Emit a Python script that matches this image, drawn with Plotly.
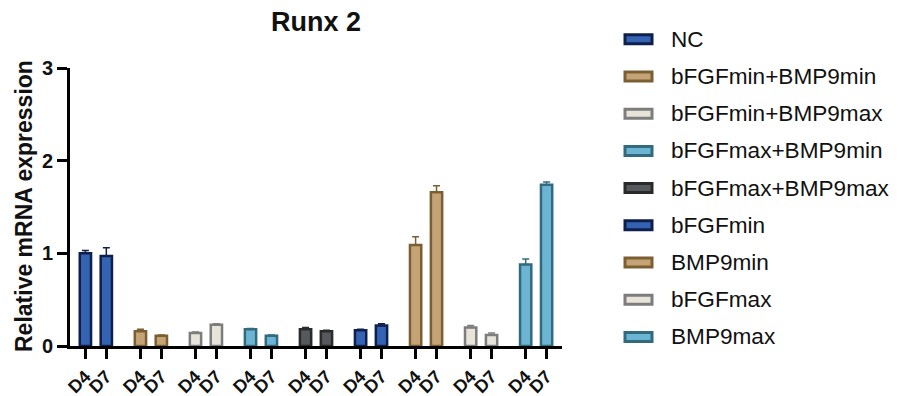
import plotly.graph_objects as go

# ---- data ----
groups = ["NC", "bFGFmin+BMP9min", "bFGFmin+BMP9max", "bFGFmax+BMP9min",
          "bFGFmax+BMP9max", "bFGFmin", "BMP9min", "bFGFmax", "BMP9max"]
days = ["D4", "D7"]
d4_mean = [1.00, 0.16, 0.14, 0.18, 0.18, 0.17, 1.09, 0.20, 0.88]
d7_mean = [0.97, 0.11, 0.23, 0.11, 0.16, 0.22, 1.66, 0.12, 1.74]
d4_err = [0.03, 0.02, 0.01, 0.01, 0.02, 0.01, 0.09, 0.02, 0.06]
d7_err = [0.09, 0.01, 0.01, 0.01, 0.01, 0.02, 0.07, 0.02, 0.03]
y_ticks = [0, 1, 2, 3]

# ---- styles ----
fills = ["#3563b3", "#c4a475", "#e8e4da", "#6bb5d3", "#55585c",
         "#3563b3", "#c4a475", "#e8e4da", "#6bb5d3"]
borders = ["#0e1f4c", "#7b5e34", "#7d7d7d", "#336b7e", "#2a2a2a",
           "#0e1f4c", "#7b5e34", "#7d7d7d", "#336b7e"]

FONT = "Arial, Liberation Sans, sans-serif"
PAGE_OFF = 8  # default body margin of the page
W, H = 899 - PAGE_OFF, 396 - PAGE_OFF
L, R, T, B = 70 - PAGE_OFF, 562 - PAGE_OFF, 68 - PAGE_OFF, 346 - PAGE_OFF
OFF = 0.19

def px2x(px):
    return (px - PAGE_OFF - L) / (R - L)

def py2y(py):
    return (B - (py - PAGE_OFF)) / (B - T)

fig = go.Figure()
tickvals, ticktext = [], []
for g, name in enumerate(groups):
    xs = [g - OFF, g + OFF]
    tickvals += xs
    ticktext += days
    fig.add_trace(go.Bar(
        x=xs, y=[d4_mean[g], d7_mean[g]], name=name, width=0.205,
        marker=dict(color=fills[g], line=dict(color=borders[g], width=2.5)),
        error_y=dict(type="data", symmetric=False,
                     array=[d4_err[g], d7_err[g]], arrayminus=[0, 0],
                     color=borders[g], thickness=1.5, width=3.5),
        showlegend=False,
    ))

shapes, annotations = [], []
for i, name in enumerate(groups):
    yc = 39.3 + i * 37.2
    shapes.append(dict(type="rect", xref="paper", yref="paper",
                       x0=px2x(625), x1=px2x(652), y0=py2y(yc + 4.5), y1=py2y(yc - 4.5),
                       fillcolor=fills[i], line=dict(color=borders[i], width=3)))
    annotations.append(dict(xref="paper", yref="paper", x=px2x(669), y=py2y(yc),
                            xanchor="left", yanchor="middle", text=name, showarrow=False,
                            font=dict(family=FONT, size=22.6, color="#111111")))

# y-axis title as rotated annotation
annotations.append(dict(xref="paper", yref="paper", x=px2x(24), y=py2y(206),
                        xanchor="center", yanchor="middle", textangle=-90,
                        text="Relative mRNA expression", showarrow=False,
                        font=dict(family=FONT, size=23, color="#111111", weight="bold")))

fig.update_layout(
    width=W, height=H,
    margin=dict(l=L, r=W - R, t=T, b=H - B, pad=0, autoexpand=False),
    paper_bgcolor="white", plot_bgcolor="white",
    barmode="overlay",
    title=dict(text="Runx 2", x=0.5, xref="paper", xanchor="center",
               y=1 - (22 - PAGE_OFF) / H, yref="container", yanchor="middle",
               font=dict(family=FONT, size=27, color="#111111", weight="bold")),
    xaxis=dict(range=[-0.47, 8.47], tickvals=tickvals, ticktext=ticktext,
               tickangle=-45, ticks="outside", ticklen=10, tickwidth=3,
               tickcolor="black", showline=True, linewidth=3, linecolor="black",
               showgrid=False, zeroline=False, automargin=False,
               tickfont=dict(family=FONT, size=18, color="#111111", weight="bold")),
    yaxis=dict(range=[0, 3], tickvals=y_ticks, ticks="outside", ticklen=10,
               tickwidth=3, tickcolor="black", showline=True, linewidth=3,
               linecolor="black", showgrid=False, zeroline=False, automargin=False,
               tickfont=dict(family=FONT, size=20, color="#111111", weight="bold")),
    shapes=shapes, annotations=annotations,
)

fig.write_html("out.html")
